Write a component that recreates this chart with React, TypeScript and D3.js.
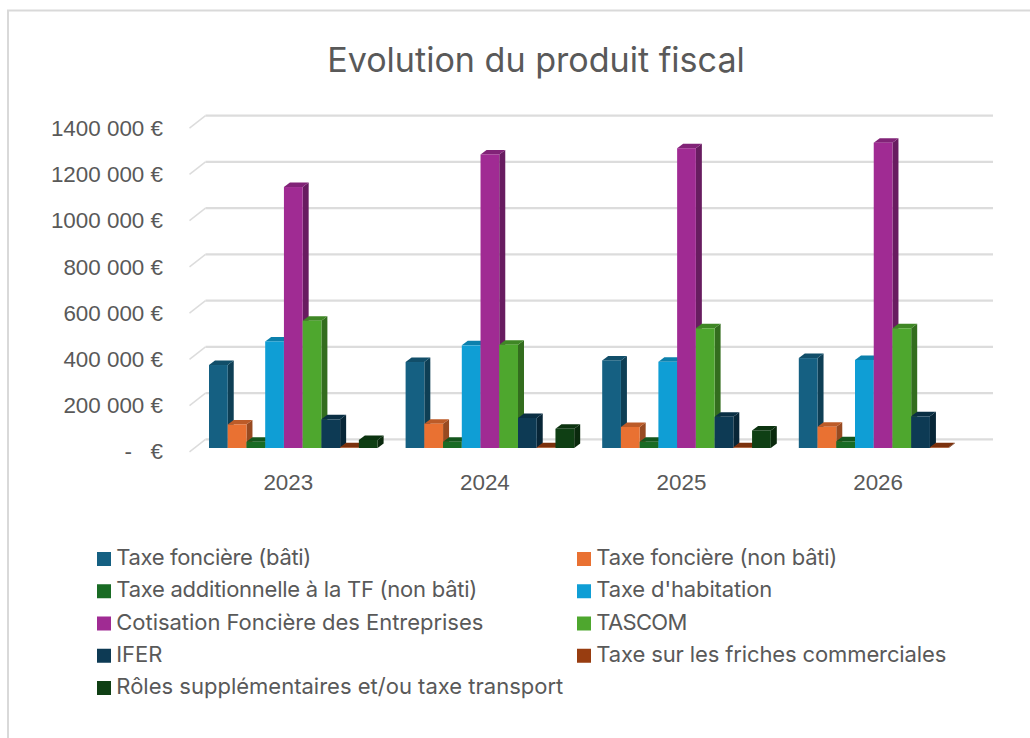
import React, { useEffect, useRef } from 'react';
import * as d3 from 'd3';

const years = ['2023', '2024', '2025', '2026'];

const seriesNames = [
  'Taxe foncière (bâti)',
  'Taxe foncière (non bâti)',
  'Taxe additionnelle à la TF (non bâti)',
  "Taxe d'habitation",
  'Cotisation Foncière des Entreprises',
  'TASCOM',
  'IFER',
  'Taxe sur les friches commerciales',
  'Rôles supplémentaires et/ou taxe transport',
];

const seriesColors = ['#156082', '#E97132', '#196B24', '#0F9ED5', '#A02B93', '#4EA72E', '#0D3A54', '#983D10', '#0F3F14'];

const tfBati = [359000, 372000, 379000, 389000];
const tfNonBati = [102000, 105000, 91000, 92000];
const taxeAdd = [27000, 27000, 27000, 29000];
const habitation = [461000, 444000, 373000, 381000];
const cfe = [1129000, 1270000, 1297000, 1321000];
const tascom = [551000, 447000, 518000, 518000];
const ifer = [124000, 130000, 135000, 137000];
const friches = [3000, 3000, 3000, 3000];
const roles = [35000, 83000, 76000, 0];

const allValues = [tfBati, tfNonBati, taxeAdd, habitation, cfe, tascom, ifer, friches, roles];

const yTicks = [0, 200000, 400000, 600000, 800000, 1000000, 1200000, 1400000];

const FONT = 'Inter, "Noto Sans", sans-serif';
const AXIS_FONT = '"Liberation Sans", Arial, sans-serif';
const TEXT = '#595959';

// measured label widths, the original font is a bit narrower on some words
const legendWidths = [195, 241, 361, 176, 367, 91, 46, 350, 447];

const formatEuro = (v: number) => {
  if (v === 0) return '-\u00A0\u00A0\u00A0€';
  const s = d3.format(',')(v).split(',');
  return s.length === 3 ? `${s[0]}${s[1]} ${s[2]} €` : `${s[0]} ${s[1]} €`;
};

const App = () => {
  const chartRef = useRef<SVGSVGElement | null>(null);

  useEffect(() => {
    if (!chartRef.current) return;
    const svg = d3.select(chartRef.current);
    svg.selectAll('*').remove();

    // bars stand a little behind the front of the floor, the grid on the back wall
    const barDx = 6;
    const barDy = 4.5;
    const wallDx = 16;
    const wallDy = 12.5;
    const frontDy = 3.8;

    const x = d3.scaleBand().domain(years).range([190, 976.4]).padding(0);
    const xInner = d3.scaleBand<number>()
      .domain(d3.range(seriesNames.length))
      .range([19, 187.6]);
    const y = d3.scaleLinear().domain([0, 1400000]).range([448, 124.4]);
    const line = d3.line();

    svg.append('rect')
      .attr('x', 8).attr('y', 10.5)
      .attr('width', 1040).attr('height', 760)
      .attr('fill', '#fff')
      .attr('stroke', '#d9d9d9')
      .attr('stroke-width', 2);

    svg.append('text')
      .attr('x', 536).attr('y', 72)
      .attr('text-anchor', 'middle')
      .attr('font-family', FONT)
      .attr('font-size', 34.1)
      .attr('fill', TEXT)
      .text('Evolution du produit fiscal');

    // grid
    const grid = svg.append('g').attr('fill', 'none').attr('stroke', '#dcdcdc');
    yTicks.forEach((t) => {
      const yFront = y(t) + frontDy;
      const xFront = 189.5;
      grid.append('path')
        .attr('stroke-width', 1.5)
        .attr('d', line([[xFront, yFront], [xFront + wallDx, yFront - wallDy]]));
      grid.append('path')
        .attr('stroke-width', 2.2)
        .attr('d', line([[xFront + wallDx, yFront - wallDy], [993, yFront - wallDy]]));
    });

    // bars, left to right so each one covers the side of the previous one
    years.forEach((year, yi) => {
      allValues.forEach((values, si) => {
        const v = values[yi];
        if (v <= 0) return;
        const x0 = (x(year) as number) + (xInner(si) as number);
        const w = xInner.bandwidth();
        const yTop = y(v);
        const yBase = y(0);
        const base = d3.color(seriesColors[si]) as d3.RGBColor;
        const g = svg.append('g');
        g.append('path')
          .attr('fill', base.darker(1.2).formatHex())
          .attr('d', line([
            [x0 + w, yTop], [x0 + w + barDx, yTop - barDy],
            [x0 + w + barDx, yBase - barDy], [x0 + w, yBase],
          ]) + 'Z');
        g.append('path')
          .attr('fill', base.darker(0.6).formatHex())
          .attr('d', line([
            [x0, yTop], [x0 + barDx, yTop - barDy],
            [x0 + w + barDx, yTop - barDy], [x0 + w, yTop],
          ]) + 'Z');
        g.append('rect')
          .attr('x', x0).attr('y', yTop)
          .attr('width', w).attr('height', yBase - yTop)
          .attr('fill', seriesColors[si]);
      });
    });

    // axes
    const yAxis = svg.append('g')
      .attr('transform', `translate(163,${frontDy})`)
      .call(d3.axisLeft(y).tickValues(yTicks).tickSize(0).tickPadding(0).tickFormat((d) => formatEuro(+d)));
    const xAxis = svg.append('g')
      .attr('transform', 'translate(0,474)')
      .call(d3.axisBottom(x).tickSize(0).tickPadding(0));
    [yAxis, xAxis].forEach((a) => {
      a.select('.domain').remove();
      a.selectAll('text')
        .attr('font-family', AXIS_FONT)
        .attr('font-size', 22.4)
        .attr('fill', TEXT);
    });

    // legend, two columns
    const legendCols = [97, 577];
    const legendRow = d3.scalePoint<number>().domain([0, 1, 2, 3, 4]).range([552, 681]);
    seriesNames.forEach((name, i) => {
      const col = i % 2;
      const row = Math.floor(i / 2);
      const ly = legendRow(row) as number;
      svg.append('rect')
        .attr('x', legendCols[col]).attr('y', ly)
        .attr('width', 14).attr('height', 14)
        .attr('fill', seriesColors[i]);
      svg.append('text')
        .attr('x', legendCols[col] + 19.3).attr('y', ly + 13)
        .attr('font-family', FONT)
        .attr('font-size', 22)
        .attr('textLength', legendWidths[i])
        .attr('fill', TEXT)
        .text(name);
    });
  }, []);

  return (
    <svg
      ref={chartRef}
      width="1030"
      height="738"
      style={{ position: 'absolute', left: 0, top: 0 }}
    ></svg>
  );
};

export default App;
